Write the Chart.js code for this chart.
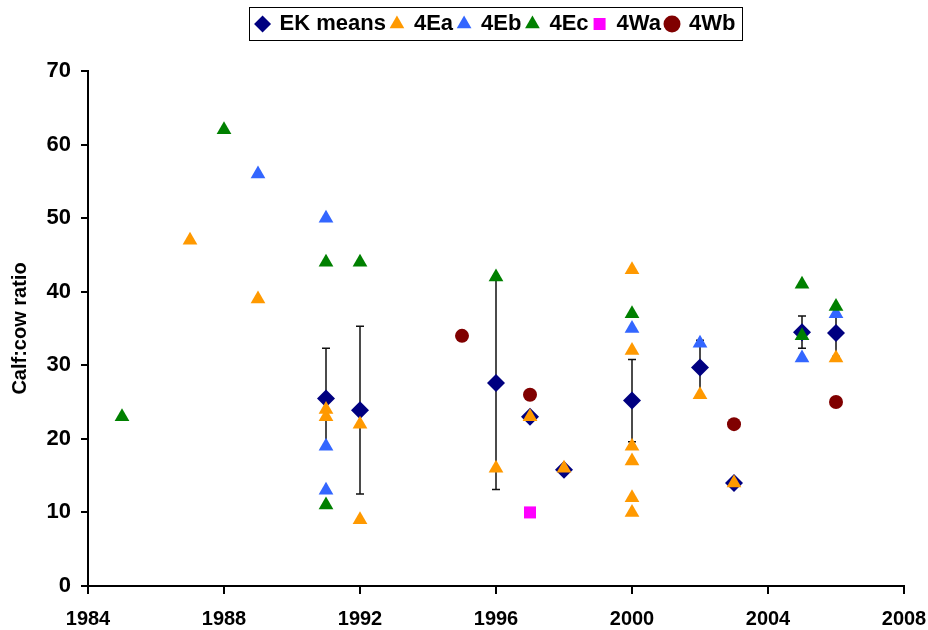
<!DOCTYPE html>
<html>
<head>
<meta charset="utf-8">
<script src="https://cdn.jsdelivr.net/npm/chart.js@4.4.1/dist/chart.umd.min.js"></script>
<style>
  html, body { margin:0; padding:0; background:#fff; }
</style>
</head>
<body>
<canvas id="calfChart" width="928" height="630"></canvas>
<script>
// EK means with error bars
let ekYears = [1991, 1992, 1996, 1997, 1998, 2000, 2002, 2003, 2005, 2006];
let ekMeans = [25.5, 23.9, 27.6, 23.0, 15.8, 25.2, 29.7, 14.0, 34.5, 34.4];
let ekErr   = [6.8, 11.4, 14.5, 0.5, 0.3, 5.6, 3.7, 0.4, 2.2, 3.2];

let eaYears = [1987, 1989, 1991, 1991, 1992, 1992, 1996, 1997, 1998, 2000, 2000, 2000, 2000, 2000, 2000, 2002, 2003, 2006];
let eaVals  = [47, 39, 24, 23, 22, 9, 16, 23, 16, 43, 32, 19, 17, 12, 10, 26, 14, 31];

let ebYears = [1989, 1991, 1991, 1991, 2000, 2002, 2005, 2006];
let ebVals  = [56, 50, 19, 13, 35, 33, 31, 37];

let ecYears = [1985, 1988, 1991, 1991, 1992, 1996, 2000, 2005, 2005, 2006];
let ecVals  = [23, 62, 44, 11, 44, 42, 37, 41, 34, 38];

let waYears = [1997];
let waVals  = [10];

let wbYears = [1995, 1997, 2003, 2006];
let wbVals  = [34, 26, 22, 25];

let xTicks = [1984, 1988, 1992, 1996, 2000, 2004, 2008];
let yTicks = [0, 10, 20, 30, 40, 50, 60, 70];

function toPoints(xs, ys){
    let pts = new Array();
    xs.forEach((x, i) => pts.push({x: x, y: ys[i]}));
    return pts;
}

let fontFam = "'Liberation Sans', Arial, sans-serif";

// error bars, drawn under the markers
let errorBars = {
    id: "errorBars",
    beforeDatasetsDraw(chart){
        let ctx = chart.ctx;
        let xs = chart.scales.x, ys = chart.scales.y;
        ctx.save();
        ctx.strokeStyle = "#111";
        ctx.lineWidth = 1.5;
        ekYears.forEach((yr, i) => {
            let px = Math.round(xs.getPixelForValue(yr));
            let top = ys.getPixelForValue(ekMeans[i] + ekErr[i]);
            let bot = ys.getPixelForValue(ekMeans[i] - ekErr[i]);
            ctx.beginPath();
            ctx.moveTo(px, top); ctx.lineTo(px, bot);
            ctx.moveTo(px - 4, top); ctx.lineTo(px + 4, top);
            ctx.moveTo(px - 4, bot); ctx.lineTo(px + 4, bot);
            ctx.stroke();
        });
        ctx.restore();
    }
};

// legend: extra room below it, centred over the plot, with a box round it
let legendBox = {
    id: "legendBox",
    beforeLayout(chart){
        let lg = chart.legend;
        if(lg && !lg._patched){
            let fit = lg.fit.bind(lg);
            lg.fit = function(){ fit(); this.height += 26; };
            lg._patched = true;
        }
    },
    afterUpdate(chart){
        let lg = chart.legend;
        let boxes = lg.legendHitBoxes;
        if(!boxes || !boxes.length) return;
        let left = Math.min(...boxes.map(b => b.left));
        let right = Math.max(...boxes.map(b => b.left + b.width));
        let want = (chart.chartArea.left + chart.chartArea.right) / 2;
        let delta = want - (left + right) / 2;
        lg.left += delta;
        lg.right += delta;
        boxes.forEach(b => { b.left += delta; });
    },
    afterDraw(chart){
        let boxes = chart.legend.legendHitBoxes;
        if(!boxes || !boxes.length) return;
        let left = Math.min(...boxes.map(b => b.left)) - 8;
        let right = Math.max(...boxes.map(b => b.left + b.width)) + 6;
        let top = Math.min(...boxes.map(b => b.top)) - 6;
        let bottom = Math.max(...boxes.map(b => b.top + b.height)) + 5;
        let ctx = chart.ctx;
        ctx.save();
        ctx.strokeStyle = "#000";
        ctx.lineWidth = 1;
        ctx.strokeRect(Math.round(left) + 0.5, Math.round(top) + 0.5, Math.round(right - left), Math.round(bottom - top));
        ctx.restore();
    }
};

function series(label, xs, ys, color, style, radius, order){
    return {
        label: label,
        data: toPoints(xs, ys),
        pointStyle: style,
        pointRadius: radius,
        pointHoverRadius: radius,
        backgroundColor: color,
        borderColor: color,
        pointBorderWidth: 0,
        borderWidth: 0,
        showLine: false,
        order: order
    };
}

let myCanvas = document.getElementById("calfChart").getContext("2d");
let graph = new Chart(myCanvas, {
    type: "scatter",
    data: {
        datasets: [
            series("EK means", ekYears, ekMeans, "#000080", "rectRot", 9, 6),
            series("4Ea", eaYears, eaVals, "#FF9900", "triangle", 8.5, 5),
            series("4Eb", ebYears, ebVals, "#3366FF", "triangle", 8.5, 4),
            series("4Ec", ecYears, ecVals, "#008000", "triangle", 8.5, 3),
            series("4Wa", waYears, waVals, "#FF00FF", "rect", 8.5, 2),
            series("4Wb", wbYears, wbVals, "#800000", "circle", 7, 1)
        ]
    },
    options: {
        responsive: false,
        animation: false,
        layout: { padding: { left: 0, right: 24, top: 8, bottom: 0 } },
        plugins: {
            tooltip: { enabled: false },
            legend: {
                position: "top",
                labels: {
                    usePointStyle: true,
                    boxWidth: 12,
                    boxHeight: 12,
                    padding: 5,
                    color: "#000",
                    font: { family: fontFam, size: 22, weight: "bold" },
                    sort: (a, b) => a.datasetIndex - b.datasetIndex
                }
            }
        },
        scales: {
            x: {
                type: "linear",
                min: 1984,
                max: 2008,
                afterBuildTicks: s => { s.ticks = xTicks.map(v => ({value: v})); },
                afterFit: s => { s.height = 44; s.paddingLeft = 0; s.paddingRight = 0; },
                border: { display: true, color: "#000", width: 2 },
                grid: { drawOnChartArea: false, drawTicks: true, tickLength: 8, color: "#000", lineWidth: 2 },
                ticks: {
                    color: "#000",
                    padding: 13,
                    maxRotation: 0,
                    font: { family: fontFam, size: 20, weight: "bold" },
                    callback: v => String(v)
                }
            },
            y: {
                min: 0,
                max: 70,
                afterBuildTicks: s => { s.ticks = yTicks.map(v => ({value: v})); },
                afterFit: s => { s.width = 88; },
                border: { display: true, color: "#000", width: 2 },
                grid: { drawOnChartArea: false, drawTicks: true, tickLength: 7, color: "#000", lineWidth: 2 },
                title: {
                    display: true,
                    text: "Calf:cow ratio",
                    color: "#000",
                    padding: { top: 8, bottom: 0 },
                    font: { family: fontFam, size: 20, weight: "bold" }
                },
                ticks: {
                    color: "#000",
                    padding: 10,
                    font: { family: fontFam, size: 22, weight: "bold" }
                }
            }
        }
    },
    plugins: [errorBars, legendBox]
});
</script>
</body>
</html>
